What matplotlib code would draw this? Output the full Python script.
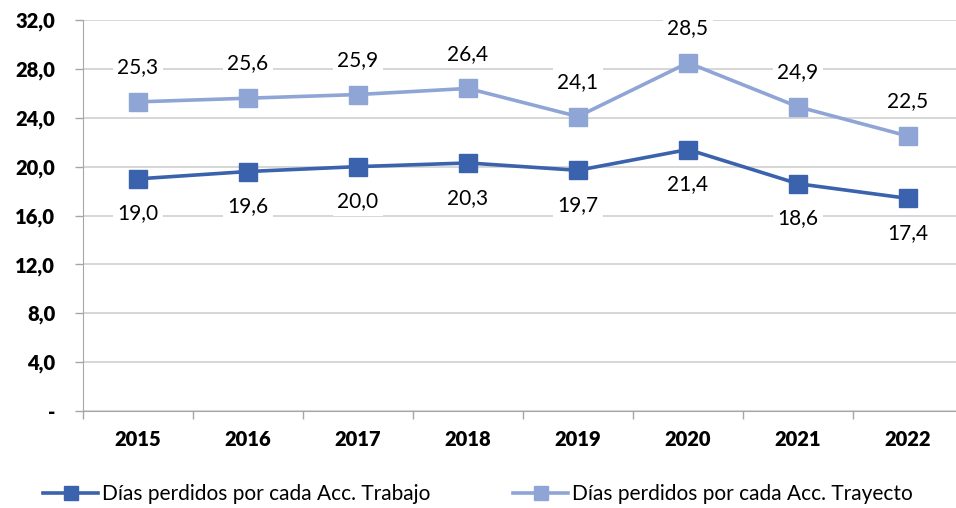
import matplotlib.pyplot as plt
from matplotlib.ticker import FixedLocator, FuncFormatter

plt.rcParams['font.family'] = ['Lato', 'DejaVu Sans']

years = ['2015', '2016', '2017', '2018', '2019', '2020', '2021', '2022']
trabajo = [19.0, 19.6, 20.0, 20.3, 19.7, 21.4, 18.6, 17.4]
trayecto = [25.3, 25.6, 25.9, 26.4, 24.1, 28.5, 24.9, 22.5]
label_trabajo = 'Días perdidos por cada Acc. Trabajo'
label_trayecto = 'Días perdidos por cada Acc. Trayecto'

dark = '#3A62AD'
light = '#8FA5D6'

fig = plt.figure(figsize=(9.56, 5.08), dpi=100)
ax = fig.add_axes([83 / 956, 1 - 411 / 508, 880 / 956, 391 / 508])

x = list(range(len(years)))
ax.plot(x, trabajo, color=dark, lw=2.6, marker='s', ms=13, label=label_trabajo, zorder=3)
ax.plot(x, trayecto, color=light, lw=2.6, marker='s', ms=13, label=label_trayecto, zorder=3)

fmt = lambda v: f'{v:.1f}'.replace('.', ',')
for xi, v in zip(x, trabajo):
    ax.annotate(fmt(v), (xi, v), xytext=(0, -25), textcoords='offset points',
                ha='center', va='center', fontsize=15,
                bbox=dict(fc='white', ec='none', pad=3), zorder=4)
for xi, v in zip(x, trayecto):
    ax.annotate(fmt(v), (xi, v), xytext=(0, 25), textcoords='offset points',
                ha='center', va='center', fontsize=15,
                bbox=dict(fc='white', ec='none', pad=3), zorder=4)

ax.set_xlim(-0.5, len(years) - 0.5)
ax.set_ylim(0, 32)
ax.set_yticks([0, 4, 8, 12, 16, 20, 24, 28, 32])
ax.yaxis.set_major_formatter(FuncFormatter(lambda v, p: '-' if v == 0 else fmt(v)))
ax.set_xticks(x)
ax.set_xticklabels(years)
ax.xaxis.set_minor_locator(FixedLocator([i - 0.5 for i in range(len(years) + 1)]))
ax.tick_params(axis='x', which='major', length=0, pad=14)
ax.tick_params(axis='x', which='minor', length=6, color='#A6A6A6', width=1)
ax.tick_params(axis='y', length=6, color='#A6A6A6', width=1, pad=14)
for lab in ax.get_xticklabels() + ax.get_yticklabels():
    lab.set_fontweight('heavy')
    lab.set_fontsize(14.5)

ax.grid(axis='y', color='#D0D0D0', lw=1.2)
ax.set_axisbelow(True)
for s in ['top', 'right']:
    ax.spines[s].set_visible(False)
ax.spines['left'].set_color('#A6A6A6')
ax.spines['bottom'].set_color('#A6A6A6')

fig.legend(loc='center', bbox_to_anchor=(0.5, 1 - 494 / 508), ncol=2, frameon=False,
           fontsize=15, handlelength=2.6, handletextpad=0.2, columnspacing=4,
           markerscale=0.75)

plt.savefig('out.png')
